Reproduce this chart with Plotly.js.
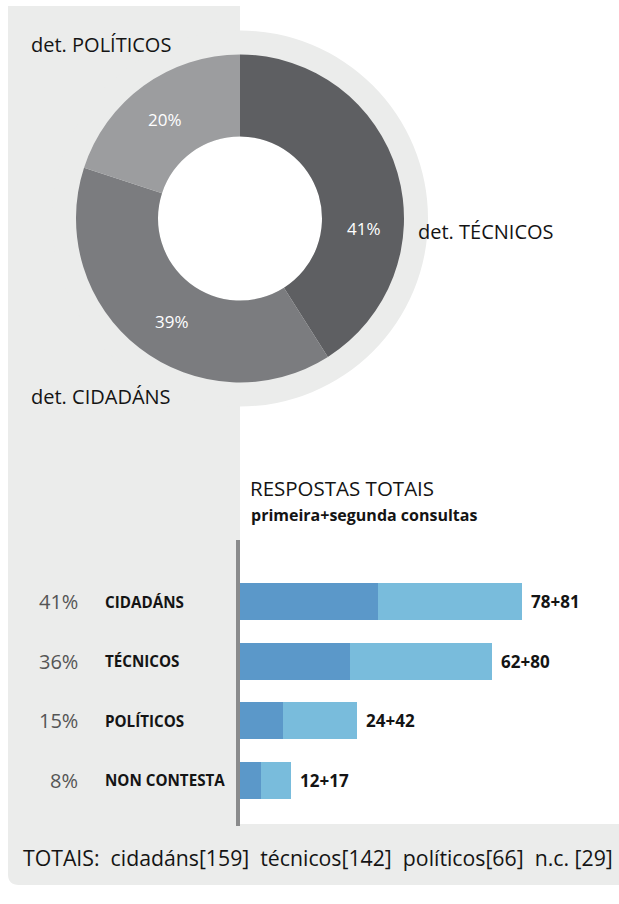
<!DOCTYPE html>
<html>
<head>
<meta charset="utf-8">
<script src="https://cdn.plot.ly/plotly-3.0.1.min.js"></script>
<style>
  html, body { margin: 0; padding: 0; background: #ffffff; }
  #chart { width: 619px; height: 904px; }
</style>
</head>
<body>
<div id="chart"></div>
<script>
// ---- Data ----
const donutLabels = ['det. TÉCNICOS', 'det. CIDADÁNS', 'det. POLÍTICOS'];
const donutValues = [41, 39, 20];
const donutText = ['41%', '39%', '20%'];
const donutColors = ['#5e5f62', '#7b7c7f', '#9c9d9f'];

const barCategories = ['CIDADÁNS', 'TÉCNICOS', 'POLÍTICOS', 'NON CONTESTA'];
const firstConsult = [78, 62, 24, 12];
const secondConsult = [81, 80, 42, 17];
const sharePct = ['41%', '36%', '15%', '8%'];

const totalsNames = ['cidadáns', 'técnicos', 'políticos', 'n.c. '];
const totalsValues = [159, 142, 66, 29];

// ---- helpers (pixel -> paper) ----
const W = 619, H = 904;
const px = x => x / W;
const py = y => 1 - y / H;
const FONT = '"Open Sans", "Noto Sans", sans-serif';
const PANEL = '#ebeceb';
const INK = '#141414';

const cx = 240, cy = 218.5, rOut = 164, rRing = 188, rHole = 82;

const pie = {
  type: 'pie',
  labels: donutLabels,
  values: donutValues,
  sort: false,
  direction: 'clockwise',
  rotation: 0,
  hole: rHole / rOut,
  marker: { colors: donutColors, line: { width: 0 } },
  textinfo: 'none',
  hoverinfo: 'label+value',
  showlegend: false,
  domain: { x: [px(cx - rOut), px(cx + rOut)], y: [py(cy + rOut), py(cy - rOut)] }
};

const totals = firstConsult.map((v, i) => v + secondConsult[i]);

const bar1 = {
  type: 'bar', orientation: 'h',
  y: barCategories, x: firstConsult,
  marker: { color: '#5b98c9', line: { width: 0 } },
  width: 0.62, showlegend: false, hoverinfo: 'x'
};
const bar2 = {
  type: 'bar', orientation: 'h',
  y: barCategories, x: secondConsult,
  marker: { color: '#79bcdc', line: { width: 0 } },
  width: 0.62, showlegend: false, hoverinfo: 'x'
};

const annotations = [];
// donut outer labels
const outerPos = [[416, 232], [29, 396], [29, 45]];
donutLabels.forEach((t, i) => {
  annotations.push({
    xref: 'paper', yref: 'paper', x: px(outerPos[i][0]), y: py(outerPos[i][1]),
    xanchor: 'left', yanchor: 'middle', showarrow: false, text: t,
    font: { family: FONT, size: 20, color: INK }
  });
});
// donut inner percentages
const innerPos = [[364, 229], [172, 321], [165, 120]];
donutText.forEach((t, i) => {
  annotations.push({
    xref: 'paper', yref: 'paper', x: px(innerPos[i][0]), y: py(innerPos[i][1]),
    xanchor: 'center', yanchor: 'middle', showarrow: false, text: t,
    font: { family: FONT, size: 17, color: '#ffffff' }
  });
});
// bar section title
annotations.push({
  xref: 'paper', yref: 'paper', x: px(248), y: py(488.5), xanchor: 'left', yanchor: 'middle',
  showarrow: false, text: 'RESPOSTAS TOTAIS', font: { family: FONT, size: 20.5, color: INK }
});
annotations.push({
  xref: 'paper', yref: 'paper', x: px(249), y: py(514.5), xanchor: 'left', yanchor: 'middle',
  showarrow: false, text: '<b>primeira+segunda consultas</b>', font: { family: FONT, size: 16, color: INK }
});
// bar row labels
barCategories.forEach((c, i) => {
  annotations.push({
    xref: 'paper', yref: 'y', x: px(80), y: c, xanchor: 'right', yanchor: 'middle',
    showarrow: false, text: sharePct[i], font: { family: FONT, size: 20, color: '#555555' }
  });
  annotations.push({
    xref: 'paper', yref: 'y', x: px(103), y: c, xanchor: 'left', yanchor: 'middle',
    showarrow: false, text: '<b>' + c + '</b>', font: { family: FONT, size: 15.2, color: INK }
  });
  annotations.push({
    xref: 'x', yref: 'y', x: totals[i], y: c, xanchor: 'left', yanchor: 'middle', xshift: 7,
    showarrow: false, text: '<b>' + firstConsult[i] + '+' + secondConsult[i] + '</b>',
    font: { family: FONT, size: 17, color: INK }
  });
});
// totals line
const totText = 'TOTAIS:  ' + totalsNames.map((n, i) => n + '[' + totalsValues[i] + ']').join('  ');
annotations.push({
  xref: 'paper', yref: 'paper', x: px(21), y: py(857), xanchor: 'left', yanchor: 'middle',
  showarrow: false, text: totText.replace(/ /g, '&nbsp;'), font: { family: FONT, size: 21.25, color: INK }
});

const shapes = [
  // left panel
  { type: 'rect', xref: 'paper', yref: 'paper', layer: 'below',
    x0: px(8), x1: px(240), y0: py(826), y1: py(6), fillcolor: PANEL, line: { width: 0 } },
  // bottom panel with rounded bottom-left corner
  { type: 'path', xref: 'paper', yref: 'paper', layer: 'below', fillcolor: PANEL, line: { width: 0 },
    path: `M ${px(8)} ${py(824)} L ${px(619)} ${py(824)} L ${px(619)} ${py(885)} L ${px(19)} ${py(885)} Q ${px(8)} ${py(885)} ${px(8)} ${py(874)} Z` },
  // ring around donut
  { type: 'circle', xref: 'paper', yref: 'paper', layer: 'below',
    x0: px(cx - rRing), x1: px(cx + rRing), y0: py(cy + rRing), y1: py(cy - rRing), fillcolor: PANEL, line: { width: 0 } },
  // white hole
  { type: 'circle', xref: 'paper', yref: 'paper', layer: 'below',
    x0: px(cx - rHole), x1: px(cx + rHole), y0: py(cy + rHole), y1: py(cy - rHole), fillcolor: '#ffffff', line: { width: 0 } }
];

const layout = {
  width: W, height: H,
  margin: { l: 0, r: 0, t: 0, b: 0 },
  paper_bgcolor: '#ffffff',
  plot_bgcolor: 'rgba(0,0,0,0)',
  barmode: 'stack',
  xaxis: { domain: [px(240), 1], range: [0, 379 / 1.775], showgrid: false, zeroline: false,
           showticklabels: false, ticks: '', showline: false, fixedrange: true },
  yaxis: { domain: [py(826), py(540)], type: 'category', categoryarray: barCategories,
           range: [3.77, -1.037], showgrid: false, zeroline: false, showticklabels: false, ticks: '',
           showline: true, linecolor: '#8a8b8c', linewidth: 4, fixedrange: true },
  shapes: shapes,
  annotations: annotations,
  font: { family: FONT }
};

Plotly.newPlot('chart', [pie, bar1, bar2], layout, { displayModeBar: false, staticPlot: true });
</script>
</body>
</html>
